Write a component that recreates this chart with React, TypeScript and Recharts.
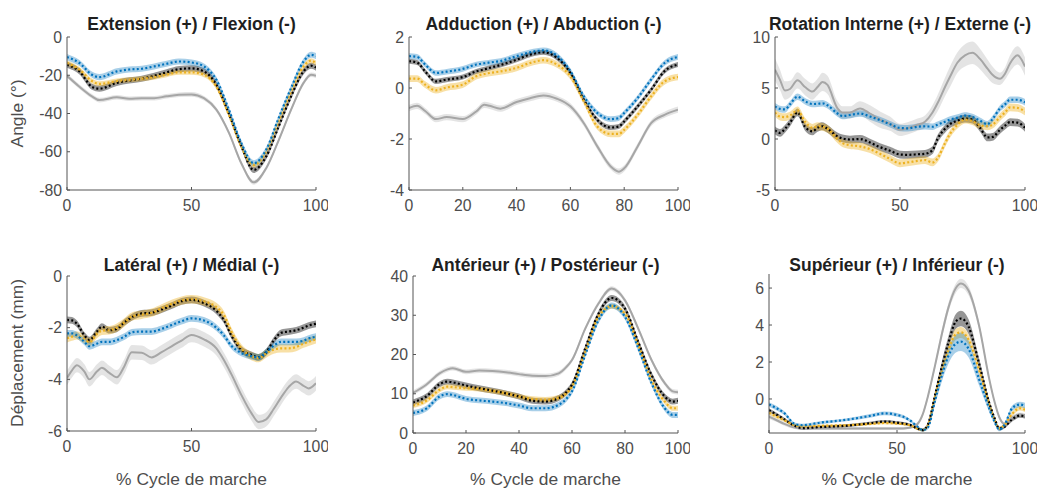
import React from 'react';
import { ComposedChart, Line, Area, XAxis, YAxis } from 'recharts';

const FONT = '"Liberation Sans", Arial, Helvetica, sans-serif';

// ---------- Panel 1 : Extension (+) / Flexion (-) ----------
const p1X = [0, 5, 10, 13, 20, 25, 30, 35, 40, 45, 50, 55, 60, 65, 70, 75, 80, 85, 90, 95, 98, 100];
const p1Gray = [-20.3, -26, -31, -33, -31.5, -32.3, -32, -32, -31, -30.2, -30, -32, -38, -50, -66, -76, -68.6, -54, -38, -24, -19.7, -20.3];
const p1Black = [-14.5, -18, -26, -27, -24, -22.7, -21.8, -20.3, -18.5, -16.8, -16.4, -18, -25, -40, -57, -69.5, -62.5, -46.8, -31, -18, -15, -16];
const p1Yellow = [-13.6, -17, -23, -24.5, -23, -22.4, -21.8, -21, -19.7, -18.5, -18.5, -19.7, -26, -40.7, -57.3, -67, -60, -44, -28.5, -15.4, -12.4, -13.6];
const p1Blue = [-10.5, -13.6, -19.7, -21, -18, -17, -16.6, -15.4, -14, -12.8, -13.3, -15.4, -22.4, -38, -55.5, -66, -59, -42.4, -26.7, -12.8, -9.3, -10];
const p1Sd = { gray: 1.2, black: 1.6, yellow: 1.3, blue: 1.6 };

// ---------- Panel 2 : Adduction (+) / Abduction (-) ----------
const p2X = [0, 3, 6, 10, 14, 20, 25, 28, 30, 34, 40, 45, 50, 55, 60, 65, 70, 75, 78, 80, 85, 90, 95, 100];
const p2Gray = [-0.79, -0.7, -0.9, -1.22, -1.14, -1.22, -0.92, -0.66, -0.7, -0.81, -0.55, -0.4, -0.29, -0.42, -0.72, -1.38, -2.29, -3.08, -3.28, -3.15, -2.29, -1.38, -1.05, -0.85];
const p2Black = [1.05, 1.0, 0.65, 0.26, 0.33, 0.43, 0.65, 0.73, 0.79, 0.9, 1.11, 1.31, 1.4, 1.18, 0.59, -0.46, -1.25, -1.55, -1.51, -1.31, -0.72, -0.07, 0.66, 0.92];
const p2Yellow = [0.37, 0.37, 0.13, -0.09, 0.02, 0.13, 0.46, 0.55, 0.59, 0.65, 0.79, 0.98, 1.09, 0.92, 0.46, -0.52, -1.51, -1.8, -1.8, -1.64, -1.05, -0.33, 0.26, 0.43];
const p2Blue = [1.25, 1.22, 0.92, 0.59, 0.64, 0.75, 0.92, 0.97, 1.0, 1.06, 1.25, 1.4, 1.48, 1.27, 0.66, -0.33, -0.98, -1.22, -1.18, -0.98, -0.39, 0.33, 0.98, 1.22];
const p2Sd = { gray: 0.12, black: 0.1, yellow: 0.13, blue: 0.11 };

// ---------- Panel 3 : Rotation Interne (+) / Externe (-) ----------
const p3X = [0, 2, 4, 6, 9, 12, 15, 17, 19, 21, 25, 27, 30, 34, 38, 42, 46, 50, 53, 57, 60, 63, 65, 68, 70, 73, 76, 79, 82, 85, 87, 90, 92, 94, 97, 100];
const p3Gray = [6.8, 5.8, 4.75, 4.9, 5.75, 5.1, 4.65, 5.1, 5.6, 5.3, 3.0, 2.6, 2.6, 3.0, 2.5, 1.9, 1.5, 0.9, 1.05, 1.4, 1.7, 2.6, 3.5, 5.1, 6.1, 7.5, 8.2, 8.45, 7.85, 6.9, 6.3, 5.9, 6.4, 7.4, 8.2, 7.1];
const p3Black = [0.85, 0.6, 1.0, 1.6, 2.6, 1.2, 0.75, 1.1, 1.25, 1.0, 0.25, 0.05, -0.05, 0.0, -0.35, -0.8, -1.15, -1.52, -1.55, -1.5, -1.45, -1.1, 0.0, 1.0, 1.45, 1.8, 2.0, 1.9, 1.1, 0.15, 0.2, 0.9, 1.3, 1.65, 1.6, 1.1];
const p3Yellow = [2.6, 2.2, 2.15, 2.3, 2.8, 1.7, 1.1, 1.25, 1.2, 1.0, 0.0, -0.4, -0.6, -0.72, -1.0, -1.45, -1.95, -2.39, -2.3, -2.15, -2.06, -2.3, -1.9, -0.42, 0.5, 1.4, 1.9, 1.75, 1.35, 1.25, 1.4, 2.15, 2.6, 3.1, 3.05, 2.7];
const p3Blue = [3.2, 2.95, 2.9, 3.4, 4.15, 3.7, 3.43, 3.45, 3.5, 3.3, 2.5, 2.25, 2.35, 2.5, 2.2, 1.86, 1.45, 1.08, 1.05, 1.2, 1.25, 1.2, 1.4, 1.7, 1.9, 2.1, 2.3, 2.15, 1.8, 1.45, 1.95, 3.0, 3.4, 3.85, 3.85, 3.6];
const p3GraySd = [1.1, 1.0, 0.9, 0.8, 0.8, 0.8, 0.8, 0.8, 0.9, 0.9, 0.7, 0.6, 0.6, 0.7, 0.8, 0.8, 0.7, 0.6, 0.6, 0.6, 0.6, 0.7, 0.8, 0.9, 1.0, 1.0, 1.1, 1.1, 1.0, 0.9, 0.8, 0.6, 0.6, 0.8, 0.9, 0.9];
const p3Sd = { gray: p3GraySd, black: 0.38, yellow: 0.38, blue: 0.32 };

// ---------- Panel 4 : Latéral (+) / Médial (-) ----------
const p4X = [0, 2, 4, 7, 9, 12, 14, 17, 20, 23, 26, 30, 34, 38, 42, 46, 50, 55, 60, 63, 66, 70, 74, 77, 80, 83, 86, 89, 92, 95, 97, 100];
const p4Gray = [-3.95, -3.65, -3.45, -3.7, -4.0, -3.7, -3.55, -3.75, -3.92, -3.5, -2.95, -2.97, -3.15, -2.95, -2.72, -2.5, -2.28, -2.45, -2.8, -3.25, -3.8, -4.6, -5.3, -5.65, -5.55, -5.15, -4.7, -4.3, -4.08, -4.25, -4.35, -4.15];
const p4Black = [-1.7, -1.72, -1.85, -2.3, -2.48, -2.15, -1.96, -2.1, -2.05, -1.8, -1.6, -1.45, -1.42, -1.3, -1.15, -0.98, -0.92, -1.05, -1.35, -1.7, -2.3, -2.85, -3.05, -3.15, -2.95, -2.5, -2.2, -2.15, -2.1, -2.0, -1.92, -1.85];
const p4Yellow = [-2.41, -2.35, -2.3, -2.45, -2.56, -2.25, -2.12, -2.1, -2.0, -1.8, -1.57, -1.5, -1.42, -1.25, -1.08, -0.95, -0.9, -0.98, -1.2, -1.51, -2.15, -2.8, -3.1, -3.18, -3.0, -2.85, -2.8, -2.8, -2.75, -2.62, -2.55, -2.45];
const p4Blue = [-2.22, -2.22, -2.3, -2.55, -2.72, -2.62, -2.55, -2.55, -2.48, -2.35, -2.18, -2.15, -2.15, -2.05, -1.9, -1.75, -1.64, -1.72, -2.0, -2.3, -2.7, -2.98, -3.1, -3.15, -2.95, -2.7, -2.55, -2.55, -2.55, -2.5, -2.42, -2.35];
const p4Sd = { gray: 0.28, black: 0.13, yellow: 0.16, blue: 0.13 };

// ---------- Panel 5 : Antérieur (+) / Postérieur (-) ----------
const p5X = [0, 5, 10, 13, 15, 20, 25, 30, 35, 40, 45, 50, 55, 58, 60, 65, 70, 75, 80, 85, 90, 95, 98, 100];
const p5Gray = [10.2, 12.3, 15.2, 16.2, 16.5, 15.6, 15.9, 15.8, 15.5, 15.0, 14.6, 14.5, 15.2, 16.9, 18.6, 26.6, 33.0, 36.8, 33.8, 26.6, 18.6, 12.7, 10.6, 10.4];
const p5Black = [7.8, 9.3, 12.4, 13.1, 12.9, 12.1, 11.4, 10.8, 10.1, 9.3, 8.2, 8.0, 8.9, 10.5, 12.3, 21.6, 30.4, 34.4, 31.7, 23.2, 14.8, 9.3, 8.0, 8.2];
const p5Yellow = [7.0, 8.2, 11.0, 11.8, 11.7, 11.4, 11.2, 10.7, 10.1, 9.3, 8.7, 8.5, 9.0, 10.2, 11.8, 20.7, 29.6, 32.3, 30.4, 22.4, 13.5, 8.0, 6.3, 6.3];
const p5Blue = [5.1, 6.2, 9.3, 9.9, 9.7, 8.7, 8.3, 8.0, 7.6, 7.0, 6.3, 6.3, 7.2, 8.8, 10.6, 19.9, 28.7, 32.5, 29.6, 21.6, 12.7, 6.3, 4.6, 4.6];
const p5Sd = { gray: 0.6, black: 0.75, yellow: 0.65, blue: 0.75 };

// ---------- Panel 6 : Supérieur (+) / Inférieur (-) ----------
const p6X = [0, 3, 6, 10, 13, 20, 30, 40, 45, 50, 55, 58, 60, 62, 65, 68, 70, 73, 75, 78, 82, 86, 88, 90, 92, 95, 98, 100];
const p6Gray = [-0.95, -1.15, -1.35, -1.55, -1.6, -1.6, -1.6, -1.6, -1.6, -1.6, -1.55, -1.35, -0.85, 0.1, 1.9, 3.8, 4.9, 6.0, 6.25, 5.85, 4.0, 1.1, -0.1, -1.0, -1.35, -1.0, -0.85, -0.9];
const p6Black = [-0.6, -0.85, -1.1, -1.45, -1.58, -1.52, -1.45, -1.3, -1.22, -1.28, -1.4, -1.6, -1.68, -1.4, 0.3, 2.0, 3.0, 4.2, 4.35, 3.9, 1.95, -0.2, -1.0, -1.6, -1.5, -1.1, -0.9, -0.94];
const p6Yellow = [-0.75, -0.95, -1.15, -1.42, -1.48, -1.45, -1.42, -1.35, -1.3, -1.33, -1.42, -1.6, -1.68, -1.45, 0.2, 1.7, 2.6, 3.5, 3.6, 3.2, 1.6, -0.3, -1.1, -1.58, -1.4, -0.8, -0.5, -0.58];
const p6Blue = [-0.3, -0.5, -0.77, -1.35, -1.42, -1.28, -1.13, -0.9, -0.78, -0.86, -1.15, -1.5, -1.68, -1.55, 0.0, 1.5, 2.3, 3.0, 3.1, 2.7, 1.1, -0.5, -1.2, -1.65, -1.4, -0.5, -0.3, -0.36];
const p6GraySd = [0.12, 0.1, 0.1, 0.08, 0.08, 0.08, 0.08, 0.08, 0.08, 0.08, 0.08, 0.1, 0.12, 0.15, 0.2, 0.25, 0.25, 0.25, 0.25, 0.25, 0.2, 0.15, 0.12, 0.1, 0.1, 0.12, 0.12, 0.12];
const p6BlackSd = [0.1, 0.1, 0.08, 0.08, 0.08, 0.08, 0.08, 0.08, 0.08, 0.08, 0.08, 0.08, 0.08, 0.1, 0.2, 0.3, 0.35, 0.4, 0.42, 0.4, 0.3, 0.2, 0.12, 0.1, 0.1, 0.12, 0.12, 0.12];
const p6YellowSd = [0.1, 0.1, 0.08, 0.08, 0.06, 0.06, 0.06, 0.06, 0.06, 0.06, 0.06, 0.08, 0.08, 0.1, 0.15, 0.22, 0.25, 0.3, 0.3, 0.28, 0.2, 0.15, 0.1, 0.08, 0.1, 0.12, 0.12, 0.12];
const p6BlueSd = [0.12, 0.12, 0.1, 0.08, 0.08, 0.08, 0.08, 0.1, 0.1, 0.1, 0.08, 0.08, 0.08, 0.1, 0.25, 0.35, 0.42, 0.48, 0.5, 0.45, 0.35, 0.2, 0.12, 0.1, 0.12, 0.15, 0.15, 0.15];
const p6Sd = { gray: p6GraySd, black: p6BlackSd, yellow: p6YellowSd, blue: p6BlueSd };

// ---------- Text ----------
const titles = [
  'Extension (+) / Flexion (-)',
  'Adduction (+) / Abduction (-)',
  'Rotation Interne (+) / Externe (-)',
  'Latéral (+) / Médial (-)',
  'Antérieur (+) / Postérieur (-)',
  'Supérieur (+) / Inférieur (-)',
];
const yLabelTop = 'Angle (°)';
const yLabelBottom = 'Déplacement (mm)';
const xLabel = '% Cycle de marche';

const xTicks50 = [0, 50, 100];
const xTicks20 = [0, 20, 40, 60, 80, 100];
const p1YTicks = [-80, -60, -40, -20, 0];
const p2YTicks = [-4, -2, 0, 2];
const p3YTicks = [-5, 0, 5, 10];
const p4YTicks = [-6, -4, -2, 0];
const p5YTicks = [0, 10, 20, 30, 40];
const p6YTicks = [0, 2, 4, 6];

// ---------- Styles ----------
const COLORS = {
  gray: { line: '#a6a6a6', band: '#b3b3b3', op: 0.35, dash: undefined as string | undefined, w: 2 },
  black: { line: '#000000', band: '#404040', op: 0.55, dash: '2 2.3', w: 2.2 },
  yellow: { line: '#EDB120', band: '#EDB120', op: 0.4, dash: '2 2.3', w: 2.2 },
  blue: { line: '#0072BD', band: '#0072BD', op: 0.34, dash: '2 2.3', w: 2.2 },
};
const ORDER = ['gray', 'black', 'yellow', 'blue'] as const;

type Sd = number | number[];
const sdAt = (s: Sd, i: number) => (typeof s === 'number' ? s : s[i]);

function buildRows(xs: number[], series: Record<string, number[]>, sds: Record<string, Sd>) {
  return xs.map((x, i) => {
    const row: any = { x };
    for (const k of ORDER) {
      const v = series[k][i];
      const s = sdAt(sds[k], i);
      row[k] = v;
      row[k + 'B'] = [v - s, v + s];
    }
    return row;
  });
}

const panels = [
  { L: 67, T: 37, R: 316, B: 190, yDomain: [-80, 0], yTicks: p1YTicks, xTicks: xTicks50,
    rows: buildRows(p1X, { gray: p1Gray, black: p1Black, yellow: p1Yellow, blue: p1Blue }, p1Sd) },
  { L: 409, T: 37, R: 678, B: 190, yDomain: [-4, 2], yTicks: p2YTicks, xTicks: xTicks20,
    rows: buildRows(p2X, { gray: p2Gray, black: p2Black, yellow: p2Yellow, blue: p2Blue }, p2Sd) },
  { L: 775, T: 37, R: 1025, B: 190, yDomain: [-5, 10], yTicks: p3YTicks, xTicks: xTicks50,
    rows: buildRows(p3X, { gray: p3Gray, black: p3Black, yellow: p3Yellow, blue: p3Blue }, p3Sd) },
  { L: 67, T: 276, R: 316, B: 431, yDomain: [-6, 0], yTicks: p4YTicks, xTicks: xTicks50,
    rows: buildRows(p4X, { gray: p4Gray, black: p4Black, yellow: p4Yellow, blue: p4Blue }, p4Sd) },
  { L: 413, T: 276, R: 678, B: 433, yDomain: [0, 40], yTicks: p5YTicks, xTicks: xTicks20,
    rows: buildRows(p5X, { gray: p5Gray, black: p5Black, yellow: p5Yellow, blue: p5Blue }, p5Sd) },
  { L: 769, T: 274, R: 1025, B: 433, yDomain: [-1.84, 6.76], yTicks: p6YTicks, xTicks: xTicks50,
    rows: buildRows(p6X, { gray: p6Gray, black: p6Black, yellow: p6Yellow, blue: p6Blue }, p6Sd) },
];

const AXIS = '#555555';
const TICK_TEXT = { fill: '#4d4d4d', fontSize: 15.8, fontFamily: FONT };
const PADL = 60;
const PADT = 12;
const PADR = 12;
const PADB = 30;

function Panel({ p }: { p: any }) {
  const pw = p.R - p.L;
  const ph = p.B - p.T;
  return (
    <div style={{ position: 'absolute', left: p.L - PADL, top: p.T - PADT }}>
      <ComposedChart
        width={pw + PADL + PADR}
        height={ph + PADT + PADB}
        data={p.rows}
        margin={{ top: PADT, right: PADR, bottom: 0, left: 0 }}
      >
        <XAxis
          dataKey="x"
          type="number"
          domain={[0, 100]}
          ticks={p.xTicks}
          interval={0}
          height={PADB}
          tickSize={-3}
          tickMargin={13}
          axisLine={{ stroke: AXIS, strokeWidth: 1 }}
          tickLine={{ stroke: AXIS }}
          tick={TICK_TEXT}
          allowDataOverflow
        />
        <YAxis
          type="number"
          domain={p.yDomain}
          ticks={p.yTicks}
          interval={0}
          width={PADL}
          tickSize={-3}
          tickMargin={8}
          axisLine={{ stroke: AXIS, strokeWidth: 1 }}
          tickLine={{ stroke: AXIS }}
          tick={TICK_TEXT}
          allowDataOverflow
        />
        {ORDER.map((k) => (
          <Area
            key={k + 'B'}
            dataKey={k + 'B'}
            type="monotone"
            stroke="none"
            fill={COLORS[k].band}
            fillOpacity={COLORS[k].op}
            isAnimationActive={false}
            dot={false}
            activeDot={false}
          />
        ))}
        {ORDER.map((k) => (
          <Line
            key={k}
            dataKey={k}
            type="monotone"
            stroke={COLORS[k].line}
            strokeWidth={COLORS[k].w}
            strokeDasharray={COLORS[k].dash}
            isAnimationActive={false}
            dot={false}
            activeDot={false}
          />
        ))}
      </ComposedChart>
    </div>
  );
}

export default function App() {
  return (
    <div style={{ position: 'absolute', left: 0, top: 0, width: 1042, height: 493, background: '#ffffff', overflow: 'hidden' }}>
      {panels.map((p, i) => (
        <Panel key={i} p={p} />
      ))}
      <svg width={1042} height={493} style={{ position: 'absolute', left: 0, top: 0, pointerEvents: 'none' }}>
        {panels.map((p, i) => (
          <text
            key={'t' + i}
            x={(p.L + p.R) / 2}
            y={i < 3 ? 30 : 271}
            textAnchor="middle"
            fontFamily={FONT}
            fontSize={17.5}
            fontWeight="bold"
            fill="#1f1f1f"
          >
            {titles[i]}
          </text>
        ))}
        {panels.slice(3).map((p, i) => (
          <text
            key={'xl' + i}
            x={(p.L + p.R) / 2}
            y={485}
            textAnchor="middle"
            fontFamily={FONT}
            fontSize={17.4}
            fill="#4d4d4d"
          >
            {xLabel}
          </text>
        ))}
        <text
          x={23}
          y={113.5}
          transform="rotate(-90, 23, 113.5)"
          textAnchor="middle"
          fontFamily={FONT}
          fontSize={17.4}
          fill="#4d4d4d"
        >
          {yLabelTop}
        </text>
        <text
          x={23}
          y={353}
          transform="rotate(-90, 23, 353)"
          textAnchor="middle"
          fontFamily={FONT}
          fontSize={17.4}
          fill="#4d4d4d"
        >
          {yLabelBottom}
        </text>
      </svg>
    </div>
  );
}
